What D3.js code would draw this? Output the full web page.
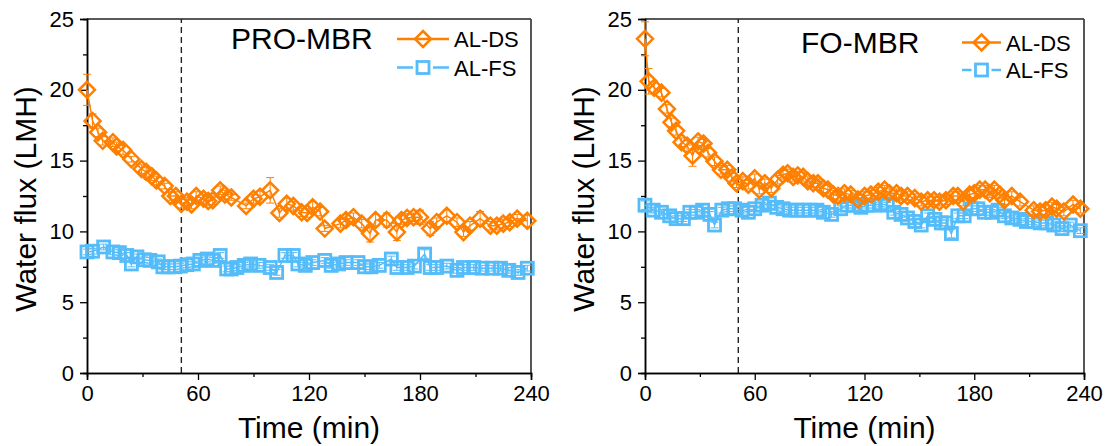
<!DOCTYPE html>
<html><head><meta charset="utf-8">
<script src="https://cdn.jsdelivr.net/npm/d3@7"></script>
<style>body{margin:0;background:#fff}svg{display:block}text{font-family:"Liberation Sans",Arial,Helvetica,sans-serif}</style>
</head><body><svg id="c" width="1107" height="446"></svg>
<script>
// ---- data: [time (min), water flux (LMH), error] ----
const proDS = [[0,20.0,1.1],[3,17.8,0.5],[6,17.0,0.3],[8.5,16.4,0.3],[14,16.3,0.3],[16,16.0,0.3],[19.5,15.75,0.3],[24,15.1,0.2],[29.5,14.4,0.3],[32,14.2,0.3],[35,13.9,0.3],[37.5,13.6,0.3],[42,13.2,0.2],[45,12.5,0.3],[48,12.5,0.3],[51,11.95,0.3],[54,12.1,0.3],[56.5,11.9,0.3],[59,12.5,0.3],[63,12.3,0.3],[65.5,12.15,0.3],[68,12.2,0.3],[72,12.9,0.3],[74.5,12.6,0.3],[78,12.4,0.2],[86,11.8,0.2],[90,12.3,0.3],[93.5,12.45,0.4],[99,12.9,0.9],[104,11.3,0.3],[108,11.95,0.4],[111.5,11.8,0.3],[116,11.35,0.3],[119,11.3,0.3],[122,11.7,0.4],[126,11.4,0.3],[128.5,10.2,0.2],[137,10.55,0.3],[140,10.8,0.4],[144,11.0,0.3],[148.5,10.55,0.3],[153,9.85,0.6],[156,10.8,0.4],[162,10.8,0.5],[167.5,9.95,0.6],[170,10.8,0.3],[173,10.95,0.3],[176.5,11.0,0.3],[180,11.0,0.5],[185.5,10.2,0.5],[189,10.65,0.3],[194.5,11.1,0.4],[200,10.65,0.3],[203.5,9.95,0.3],[207,10.4,0.3],[212.5,10.9,0.5],[218,10.4,0.3],[221.5,10.4,0.3],[225,10.55,0.3],[228.5,10.65,0.3],[232.5,10.9,0.3],[238,10.75,0.4]];
const proFS = [[0,8.55,0.2],[3,8.6,0.2],[9,8.9,0.2],[14,8.55,0.2],[17.5,8.5,0.2],[21.5,8.3,0.2],[24,7.7,0.2],[27,8.2,0.2],[31,8.0,0.2],[34,7.95,0.2],[38.5,7.85,0.2],[41,7.5,0.2],[44,7.5,0.2],[47.5,7.5,0.2],[50.5,7.55,0.2],[54,7.65,0.2],[57.5,7.7,0.2],[61,7.95,0.2],[65,8.05,0.2],[68,7.95,0.2],[72,8.3,0.2],[75.5,7.35,0.2],[78,7.35,0.2],[81,7.45,0.2],[85,7.6,0.2],[88.5,7.7,0.2],[93,7.6,0.2],[99,7.45,0.2],[102.5,7.1,0.2],[107,8.3,0.2],[111.5,8.3,0.2],[114,7.7,0.2],[118,7.6,0.2],[122,7.8,0.2],[128.5,7.95,0.2],[132,7.6,0.2],[136,7.7,0.2],[140,7.8,0.2],[146.5,7.8,0.2],[150,7.5,0.2],[153.5,7.5,0.2],[158,7.6,0.2],[164.5,8.05,0.2],[167.5,7.45,0.2],[173,7.45,0.2],[177,7.55,0.2],[182.5,8.4,0.3],[185.5,7.45,0.2],[189,7.45,0.2],[194.5,7.55,0.2],[200,7.25,0.2],[203.5,7.45,0.2],[209,7.45,0.2],[213.5,7.4,0.2],[219,7.4,0.2],[223.5,7.4,0.2],[228,7.25,0.2],[233,7.1,0.2],[238,7.4,0.2]];
const foDS = [[0,23.6,1.2],[2,20.6,0.9],[5,20.15,0.4],[9,19.8,0.3],[12,18.65,0.3],[14.5,17.7,0.3],[17,17.1,0.3],[20,16.3,0.3],[23,16.05,0.4],[26,15.35,0.75],[29,16.35,0.3],[32,16.2,0.3],[34.5,15.55,0.3],[38,14.95,0.3],[41.5,14.35,0.3],[45,14.35,0.3],[47.5,13.8,0.3],[50,13.4,0.3],[53.5,13.55,0.3],[56.5,13.3,0.3],[60,13.75,0.3],[62.5,12.95,0.3],[65.5,13.4,0.3],[69,13.05,0.3],[72.5,13.65,0.3],[75.5,14.0,0.3],[78,14.1,0.3],[81,13.85,0.3],[83.5,13.95,0.3],[86.5,13.85,0.3],[89,13.55,0.3],[92,13.4,0.3],[94.5,13.4,0.3],[97.5,13.05,0.3],[100,12.95,0.3],[103,12.6,0.3],[105.5,12.5,0.3],[109,12.7,0.3],[112.5,12.6,0.3],[116.5,12.25,0.3],[120,12.5,0.3],[123.5,12.6,0.3],[127.5,12.8,0.3],[131,12.95,0.3],[133.5,12.7,0.3],[137.5,12.7,0.3],[140,12.5,0.3],[143.5,12.5,0.3],[147.5,12.35,0.3],[151,12.1,0.3],[154.5,12.2,0.3],[158,12.2,0.3],[161,12.1,0.3],[164.5,12.2,0.3],[168.5,12.5,0.3],[171,12.5,0.3],[174,12.1,0.3],[177.5,12.6,0.3],[180,12.7,0.3],[183,12.95,0.3],[186,12.95,0.3],[188.5,12.7,0.3],[191,12.95,0.3],[194,12.6,0.3],[196.5,12.2,0.3],[200.5,12.5,0.3],[205,12.1,0.3],[212.5,11.5,0.3],[216,11.4,0.3],[219,11.5,0.3],[222.5,11.75,0.3],[225,11.6,0.3],[229,11.4,0.3],[234,11.9,0.3],[238,11.6,0.3]];
const foFS = [[0,11.85,0.3],[4.5,11.5,0.2],[9,11.35,0.2],[13.5,11.1,0.2],[17,10.9,0.2],[21,10.9,0.2],[24.5,11.35,0.2],[28,11.35,0.2],[31.5,11.5,0.2],[35.5,11.2,0.2],[38,10.45,0.2],[42,11.5,0.2],[45.5,11.6,0.2],[49,11.6,0.2],[53,11.5,0.2],[56.5,11.35,0.2],[60,11.6,0.2],[64,11.85,0.2],[68,12.0,0.2],[72,11.7,0.2],[75.5,11.6,0.2],[79,11.5,0.2],[83,11.5,0.2],[86.5,11.5,0.2],[90,11.5,0.2],[94,11.5,0.2],[97.5,11.35,0.2],[102,11.2,0.2],[107,11.6,0.2],[110.5,11.85,0.2],[114,11.85,0.2],[118,11.7,0.2],[121.5,11.85,0.2],[125,11.85,0.2],[129,11.95,0.2],[132.5,11.85,0.2],[136,11.35,0.2],[140,11.2,0.2],[143.5,10.95,0.2],[147.5,10.7,0.2],[151,10.45,0.2],[154.5,11.1,0.2],[158.5,10.85,0.2],[162,10.6,0.2],[164.5,10.6,0.2],[167.5,9.85,0.3],[171,11.1,0.2],[174.5,11.1,0.2],[178.5,11.6,0.2],[182,11.6,0.2],[185.5,11.35,0.2],[189.5,11.35,0.2],[193,11.5,0.2],[196.5,11.1,0.2],[200.5,10.95,0.2],[205,10.85,0.2],[208.5,10.7,0.2],[212.5,10.7,0.2],[216,10.6,0.2],[219.5,10.6,0.2],[223.5,10.45,0.2],[228,10.2,0.2],[232.5,10.45,0.2],[238,10.05,0.2]];
const xTicks = [0, 60, 120, 180, 240];
const xMinor = [30, 90, 150, 210];
const yTicks = [0, 5, 10, 15, 20, 25];
const yMinor = [2.5, 7.5, 12.5, 17.5, 22.5];
const seriesNames = ["AL-DS", "AL-FS"];
const panelTitles = ["PRO-MBR", "FO-MBR"];
const switchTime = 51;
const xTitle = "Time (min)";
const yTitle = "Water flux (LMH)";

const ORANGE = "#ff8000", BLUE = "#55bcfa";
const svg = d3.select("#c");

function diamond(g, x, y, color) {
  const r = 8;
  g.append("path").attr("d", `M${x},${y-r}L${x+r},${y}L${x},${y+r}L${x-r},${y}Z`)
    .attr("fill", "none").attr("stroke", color).attr("stroke-width", 2.5);
}
function square(g, x, y, color) {
  const s = 12;
  g.append("rect").attr("x", x - s/2).attr("y", y - s/2).attr("width", s).attr("height", s)
    .attr("fill", "none").attr("stroke", color).attr("stroke-width", 2.8);
}

function panel(cfg) {
  const x = d3.scaleLinear().domain([0, 240]).range([cfg.left, cfg.right]);
  const y = d3.scaleLinear().domain([0, 25]).range([cfg.bottom, cfg.top]);
  const g = svg.append("g");

  // frame (top/right)
  g.append("line").attr("x1", x(0)).attr("x2", x(240)).attr("y1", y(25)).attr("y2", y(25)).attr("stroke", "#222").attr("stroke-width", 1.5);
  g.append("line").attr("x1", x(240)).attr("x2", x(240)).attr("y1", y(25)).attr("y2", y(0)).attr("stroke", "#444").attr("stroke-width", 1.8);

  // dashed line
  g.append("line").attr("x1", x(switchTime)).attr("x2", x(switchTime)).attr("y1", y(0)).attr("y2", y(25))
    .attr("stroke", "#222").attr("stroke-width", 1.4).attr("stroke-dasharray", "6,4");

  // axes
  g.append("g").attr("transform", `translate(0,${cfg.bottom})`)
    .call(d3.axisBottom(x).tickValues(xTicks).tickSize(7).tickPadding(5).tickFormat(d3.format("d")));
  g.append("g").attr("transform", `translate(0,${cfg.bottom})`)
    .call(d3.axisBottom(x).tickValues(xMinor).tickSize(4).tickFormat(""));
  g.append("g").attr("transform", `translate(${cfg.left},0)`)
    .call(d3.axisLeft(y).tickValues(yTicks).tickSize(7).tickPadding(6).tickFormat(d3.format("d")));
  g.append("g").attr("transform", `translate(${cfg.left},0)`)
    .call(d3.axisLeft(y).tickValues(yMinor).tickSize(4).tickFormat(""));
  g.selectAll(".domain").attr("stroke", "#000").attr("stroke-width", 1.5);
  g.selectAll(".tick line").attr("stroke", "#000").attr("stroke-width", 1.3);
  g.selectAll(".tick text").attr("font-size", 22).attr("fill", "#000")
    .style("font-family", '"Liberation Sans",Arial,sans-serif');

  // axis titles
  g.append("text").attr("x", (cfg.left + cfg.right) / 2).attr("y", 438).attr("text-anchor", "middle")
    .attr("font-size", 30).text(xTitle);
  g.append("text").attr("transform", `translate(${cfg.left - 51},${cfg.yTitleMid}) rotate(-90)`)
    .attr("text-anchor", "middle").attr("font-size", 30).text(yTitle);

  // series
  const drawSeries = (data, color, marker) => {
    const line = d3.line().x(d => x(d[0])).y(d => y(d[1]));
    g.append("path").datum(data).attr("d", line).attr("fill", "none").attr("stroke", color).attr("stroke-width", 1.5);
    data.forEach(d => {
      const cx = x(d[0]), yt = y(d[1] + d[2]), yb = y(d[1] - d[2]);
      g.append("line").attr("x1", cx).attr("x2", cx).attr("y1", yt).attr("y2", yb).attr("stroke", color).attr("stroke-width", 1);
      [yt, yb].forEach(yy => g.append("line").attr("x1", cx - 4).attr("x2", cx + 4).attr("y1", yy).attr("y2", yy).attr("stroke", color).attr("stroke-width", 1));
    });
    data.forEach(d => marker(g, x(d[0]), y(d[1]), color));
  };
  drawSeries(cfg.fs, BLUE, square);
  drawSeries(cfg.ds, ORANGE, diamond);

  // panel title
  g.append("text").attr("x", cfg.titleX).attr("y", cfg.titleY).attr("font-size", 30).text(cfg.title);

  // legend
  const L = cfg.legend;
  const mx = (L.x1 + L.x2) / 2;
  g.append("line").attr("x1", L.x1).attr("x2", L.x2).attr("y1", L.y1).attr("y2", L.y1).attr("stroke", ORANGE).attr("stroke-width", 2.5);
  diamond(g, mx, L.y1, ORANGE);
  g.append("text").attr("x", L.tx).attr("y", L.y1 + 8).attr("font-size", 22).text(seriesNames[0]);
  g.append("line").attr("x1", L.x1).attr("x2", mx - 10).attr("y1", L.y2).attr("y2", L.y2).attr("stroke", BLUE).attr("stroke-width", 2.5);
  g.append("line").attr("x1", mx + 10).attr("x2", L.x2).attr("y1", L.y2).attr("y2", L.y2).attr("stroke", BLUE).attr("stroke-width", 2.5);
  square(g, mx, L.y2, BLUE);
  g.append("text").attr("x", L.tx).attr("y", L.y2 + 8).attr("font-size", 22).text(seriesNames[1]);
}

panel({left: 87, right: 531, top: 19, bottom: 373, ds: proDS, fs: proFS, title: panelTitles[0],
  titleX: 231, titleY: 49, yTitleMid: 199, legend: {x1: 397, x2: 449, y1: 39, y2: 67.5, tx: 454}});
panel({left: 645, right: 1084, top: 19, bottom: 373, ds: foDS, fs: foFS, title: panelTitles[1],
  titleX: 801, titleY: 52.5, yTitleMid: 199, legend: {x1: 962, x2: 1001, y1: 42.5, y2: 70, tx: 1006}});
</script></body></html>
